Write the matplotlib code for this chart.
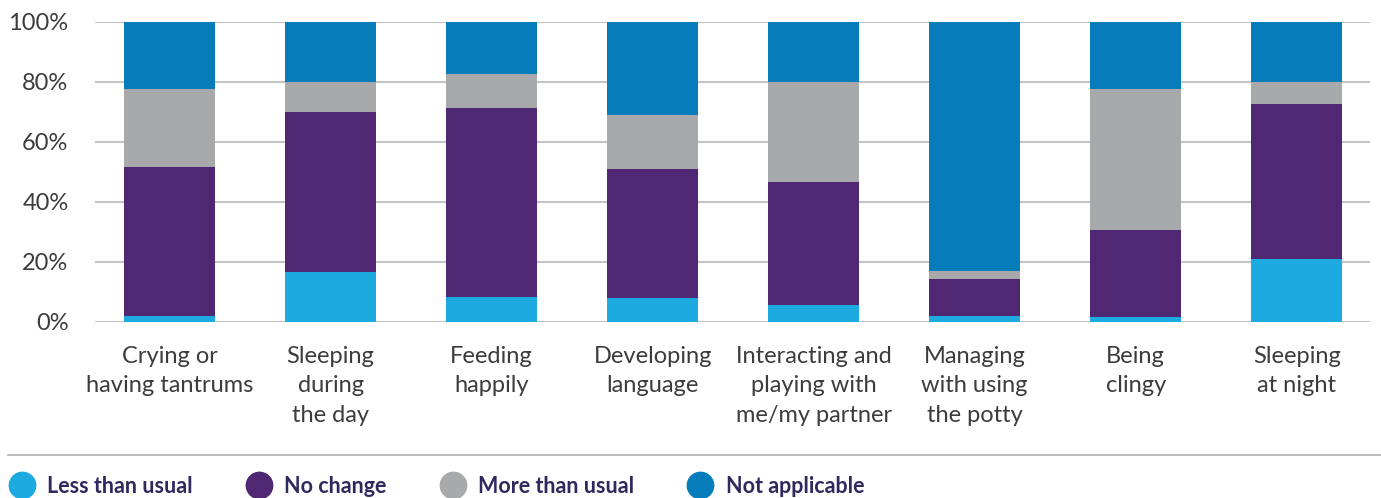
import numpy as np
import matplotlib.pyplot as plt
from matplotlib.lines import Line2D

plt.rcParams['font.family'] = ['Lato', 'DejaVu Sans']

categories = ["Crying or\nhaving tantrums", "Sleeping\nduring\nthe day", "Feeding\nhappily",
              "Developing\nlanguage", "Interacting and\nplaying with\nme/my partner",
              "Managing\nwith using\nthe potty", "Being\nclingy", "Sleeping\nat night"]
series_names = ["Less than usual", "No change", "More than usual", "Not applicable"]
less = [2.0, 16.6, 8.3, 8.0, 5.7, 2.0, 1.7, 21.0]
no_change = [49.6, 53.3, 62.9, 42.9, 40.9, 12.3, 28.9, 51.5]
more = [25.9, 10.0, 11.3, 18.0, 33.3, 2.7, 46.9, 7.4]
not_applicable = [22.5, 20.1, 17.5, 31.1, 20.1, 83.0, 22.5, 20.1]
yticks = [0, 20, 40, 60, 80, 100]

colors = ["#1DAAE1", "#4F2772", "#A7A9AA", "#067DBA"]
text_col = "#3C3C3C"
legend_col = "#2E2A5E"

fig = plt.figure(figsize=(13.81, 4.98), dpi=100)
ax = fig.add_axes([95 / 1381, 176 / 498, 1275 / 1381, 300.5 / 498])

x = np.arange(len(categories))
bottom = np.zeros(len(categories))
for vals, c, name in zip([less, no_change, more, not_applicable], colors, series_names):
    ax.bar(x, vals, bottom=bottom, width=0.565, color=c, label=name, zorder=3)
    bottom += np.array(vals)

ax.set_xlim(-0.463, len(categories) - 1 + 0.455)
ax.set_ylim(0, 100)
ax.set_yticks(yticks)
ax.set_yticklabels([f"{t}%" for t in yticks])
ax.grid(axis='y', color="#C4C4C4", linewidth=1.5, zorder=0)
ax.set_xticks(x)
ax.set_xticklabels(categories, linespacing=1.5, fontsize=17.5)
ax.tick_params(axis='both', length=0, labelsize=17, colors=text_col)
ax.tick_params(axis='x', pad=17)
ax.tick_params(axis='y', pad=19)
for s in ax.spines.values():
    s.set_visible(False)

fig.add_artist(Line2D([8 / 1381, 1], [1 - 455 / 498] * 2, color="#B0B0B0", linewidth=1.2))

handles = [Line2D([], [], linestyle='none', marker='o', markersize=19, color=c) for c in colors]
leg = fig.legend(handles, series_names, loc='center left', bbox_to_anchor=(0.0, 1 - 486 / 498),
                 ncol=4, frameon=False, handlelength=1.2, handletextpad=0.6, columnspacing=2.45,
                 prop={'size': 15.5, 'weight': 'bold'}, borderaxespad=0)
for t in leg.get_texts():
    t.set_color(legend_col)

fig.savefig("out.png", dpi=100)
